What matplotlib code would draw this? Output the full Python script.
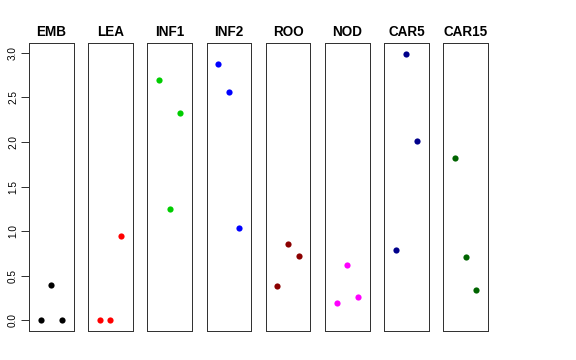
import matplotlib
matplotlib.use('Agg')
import matplotlib.pyplot as plt

plt.rcParams['font.family'] = ['Liberation Sans', 'DejaVu Sans']

# tissue panels and replicate values
tissues = ['EMB', 'LEA', 'INF1', 'INF2', 'ROO', 'NOD', 'CAR5', 'CAR15']
colors = ['black', 'red', '#00CD00', 'blue', '#8B0000', 'magenta', '#00008B', '#006400']
reps = [1, 2, 3]
values = [
    [0.00, 0.40, 0.00],
    [0.00, 0.00, 0.94],
    [2.70, 1.25, 2.33],
    [2.87, 2.56, 1.04],
    [0.38, 0.86, 0.72],
    [0.19, 0.62, 0.26],
    [0.79, 2.99, 2.01],
    [1.82, 0.71, 0.34],
]
yticks = [0.0, 0.5, 1.0, 1.5, 2.0, 2.5, 3.0]

W, H = 576, 360
fig = plt.figure(figsize=(W / 72, H / 72), dpi=72)

for i, name in enumerate(tissues):
    left = 29 + i * 59.2
    ax = fig.add_axes([left / W, (H - 331) / H, 44.5 / W, 288 / H])
    ax.plot(reps, values[i], 'o', color=colors[i], markersize=6.2, markeredgewidth=0)
    ax.set_xlim(-0.1, 4.1)
    ax.set_ylim(-0.12, 3.11)
    ax.set_xticks([])
    ax.set_title(name, fontsize=13.5, fontweight='bold', pad=7)
    for s in ax.spines.values():
        s.set_color('#333333')
        s.set_linewidth(1)
    if i == 0:
        ax.set_yticks(yticks)
        ax.set_yticklabels(['%.1f' % t for t in yticks], rotation=90, va='center', fontsize=10)
        ax.tick_params(axis='y', length=8, width=0.8, pad=3)
    else:
        ax.set_yticks([])

fig.savefig('out.png', dpi=72)
